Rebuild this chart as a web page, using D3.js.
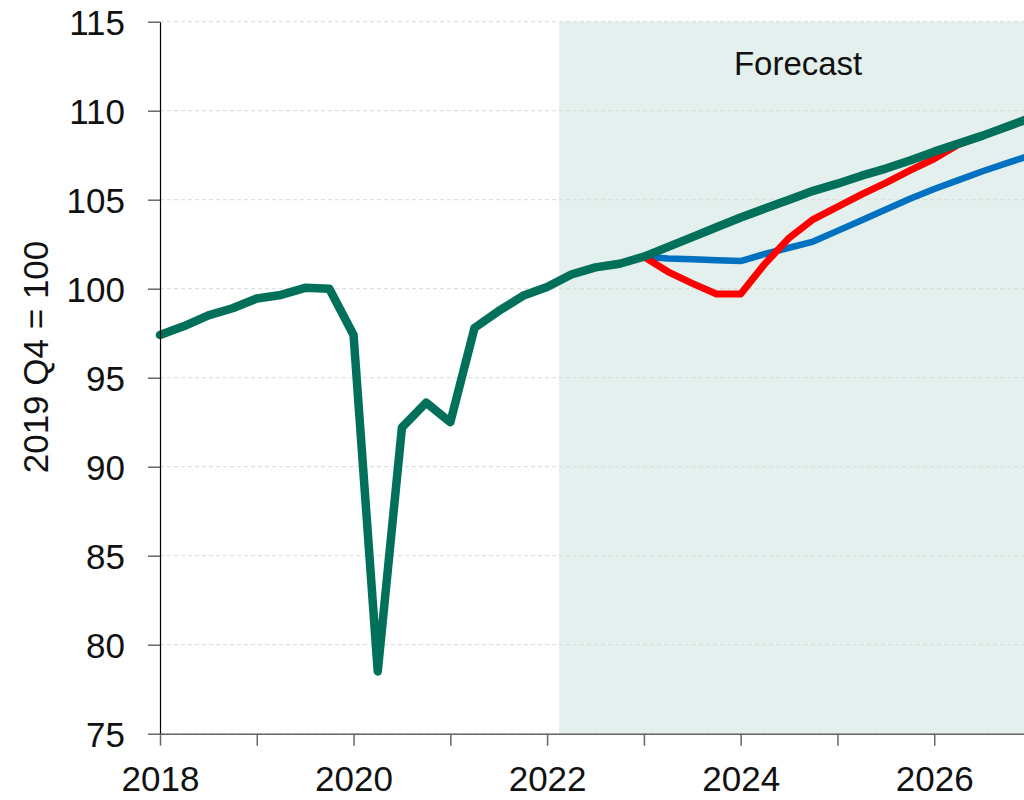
<!DOCTYPE html>
<html>
<head>
<meta charset="utf-8">
<script src="https://cdn.jsdelivr.net/npm/d3@7"></script>
<style>
  body { margin: 0; background: #fff; }
  svg { display: block; font-family: "Liberation Sans", Arial, sans-serif; }
  .grid line { stroke: #d9d9d9; stroke-dasharray: 4,3; }
</style>
</head>
<body>
<div id="chart"></div>
<script>
const quarters = [
  "2018 Q1","2018 Q2","2018 Q3","2018 Q4",
  "2019 Q1","2019 Q2","2019 Q3","2019 Q4",
  "2020 Q1","2020 Q2","2020 Q3","2020 Q4",
  "2021 Q1","2021 Q2","2021 Q3","2021 Q4",
  "2022 Q1","2022 Q2","2022 Q3","2022 Q4",
  "2023 Q1","2023 Q2","2023 Q3","2023 Q4",
  "2024 Q1","2024 Q2","2024 Q3","2024 Q4",
  "2025 Q1","2025 Q2","2025 Q3","2025 Q4",
  "2026 Q1","2026 Q2","2026 Q3","2026 Q4",
  "2027 Q1"
];

// central forecast (green), incl. outturn
const central = [97.4, 97.9, 98.5, 98.9, 99.45, 99.65, 100.05, 100.0,
  97.4, 78.5, 92.2, 93.6, 92.5, 97.8, 98.75, 99.6,
  100.1, 100.8, 101.2, 101.4, 101.8, 102.35, 102.9, 103.45,
  104.0, 104.5, 105.0, 105.5, 105.9, 106.35, 106.75, 107.2,
  107.7, 108.15, 108.6, 109.1, 109.6];

// red scenario, from 2022 Q3
const redScenario = [101.2, 101.4, 101.8, 100.95, 100.3, 99.7, 99.7, 101.4, 102.85,
  103.9, 104.6, 105.3, 105.95, 106.65, 107.3, 108.1, 108.6, 109.1, 109.6];

// blue scenario, from 2022 Q3
const blueScenario = [101.2, 101.4, 101.8, 101.7, 101.65, 101.6, 101.55, 101.95, 102.3,
  102.65, 103.25, 103.85, 104.45, 105.05, 105.6, 106.1, 106.6, 107.05, 107.5];

const scenarioStart = "2022 Q3";
const forecastStart = 2022.125;
const yTicks = [75, 80, 85, 90, 95, 100, 105, 110, 115];
const xTicks = [2018, 2019, 2020, 2021, 2022, 2023, 2024, 2025, 2026, 2027];
const xLabels = [2018, 2020, 2022, 2024, 2026];

const width = 1024;
const height = 800;

function toYear(q) {
  const parts = q.split(" Q");
  return +parts[0] + (+parts[1] - 1) / 4;
}

const svg = d3.select("#chart").append("svg")
  .attr("width", width)
  .attr("height", height);

const x = d3.scaleLinear().domain([2018, 2027]).range([160, 1031]);
const y = d3.scaleLinear().domain([75, 115]).range([733.7, 21.7]);

// forecast shading
svg.append("rect")
  .attr("x", x(forecastStart))
  .attr("y", y(115))
  .attr("width", x(2027) - x(forecastStart))
  .attr("height", y(75) - y(115))
  .attr("fill", "#e3f0ed");

svg.append("text")
  .attr("x", (x(forecastStart) + x(2027)) / 2 + 3)
  .attr("y", 75)
  .attr("text-anchor", "middle")
  .attr("font-size", 33)
  .attr("fill", "#111")
  .text("Forecast");

// gridlines
svg.append("g")
  .attr("class", "grid")
  .selectAll("line")
  .data(yTicks)
  .enter().append("line")
  .attr("x1", x(2018))
  .attr("x2", width)
  .attr("y1", d => y(d))
  .attr("y2", d => y(d));

function seriesData(values, start) {
  const i0 = quarters.indexOf(start);
  return values.map((v, i) => ({ x: toYear(quarters[i0 + i]), v: v }));
}

const line = d3.line()
  .x(d => x(d.x))
  .y(d => y(d.v));

const series = [
  { data: seriesData(blueScenario, scenarioStart), color: "#0070c0", w: 6.5 },
  { data: seriesData(redScenario, scenarioStart), color: "#ff0000", w: 7 },
  { data: seriesData(central, quarters[0]), color: "#00705a", w: 8.5 }
];

svg.selectAll("path.series")
  .data(series)
  .enter().append("path")
  .attr("class", "series")
  .attr("d", d => line(d.data))
  .attr("fill", "none")
  .attr("stroke", d => d.color)
  .attr("stroke-width", d => d.w)
  .attr("stroke-linejoin", "round")
  .attr("stroke-linecap", "round");

// y axis
const yAxis = svg.append("g")
  .attr("transform", "translate(160,0)")
  .call(d3.axisLeft(y).tickValues(yTicks).tickSize(12).tickSizeOuter(0).tickPadding(23));
yAxis.select(".domain").attr("stroke", "#000").attr("stroke-width", 1.2);
yAxis.selectAll(".tick line").attr("stroke", "#666").attr("stroke-width", 1.5);
yAxis.selectAll(".tick text")
  .attr("font-size", 35)
  .attr("font-family", "Liberation Sans, Arial, sans-serif")
  .attr("fill", "#111")
  .attr("dy", "0.36em");

// x axis
const xAxis = svg.append("g")
  .attr("transform", `translate(0,${y(75)})`)
  .call(d3.axisBottom(x).tickValues(xTicks).tickSize(12).tickSizeOuter(0).tickPadding(20)
    .tickFormat(d => xLabels.includes(d) ? d : ""));
xAxis.select(".domain").attr("stroke", "#666").attr("stroke-width", 1.5);
xAxis.selectAll(".tick line").attr("stroke", "#666").attr("stroke-width", 1.5);
xAxis.selectAll(".tick text")
  .attr("font-size", 35)
  .attr("font-family", "Liberation Sans, Arial, sans-serif")
  .attr("fill", "#111");

// y title
svg.append("text")
  .attr("transform", "translate(48,357) rotate(-90)")
  .attr("text-anchor", "middle")
  .attr("font-size", 35)
  .attr("fill", "#111")
  .text("2019 Q4 = 100");
</script>
</body>
</html>
